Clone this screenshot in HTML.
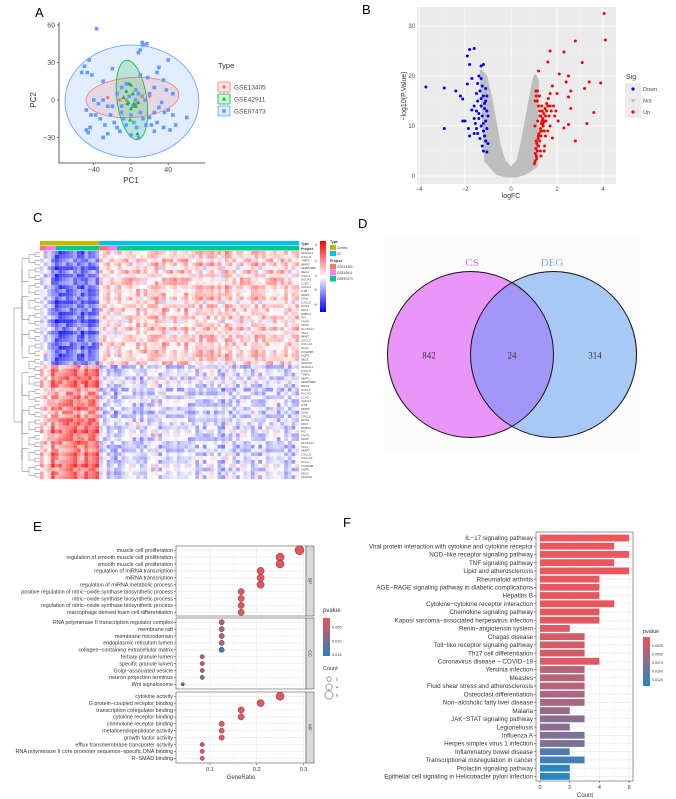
<!DOCTYPE html>
<html><head><meta charset="utf-8"><style>
html,body{margin:0;padding:0;background:#fff;}
svg{display:block;font-family:"Liberation Sans",sans-serif;}
</style></head><body>
<svg id="fig" width="676" height="799" viewBox="0 0 676 799" xmlns="http://www.w3.org/2000/svg">
<g id="pA"></g>
<g id="pB"></g>
<g id="pC"></g>
<g id="pD"></g>
<g id="pE"></g>
<g id="pF"></g>
</svg>
<script>
// ---------- DATA ----------
const pcaBlue = [[-37,57],[12,46],[13,44],[17,45],[10,40],[8,38],[-50,27],[-45,32],[-47,22],[-53,22],[-42,20],[-30,15],[-20,25],[40,32],[30,26],[28,22],[10,20],[35,16],[18,18],[-15,5],[-10,10],[-5,13],[5,8],[20,5],[25,10],[38,8],[45,5],[-40,0],[-35,-3],[-30,0],[-25,-5],[-48,-8],[-43,-12],[-38,-12],[-33,-15],[-28,-20],[-22,-12],[-18,-18],[-15,-22],[-10,-10],[-8,-15],[-5,-20],[0,-12],[3,-18],[6,-22],[10,-10],[13,-15],[16,-20],[20,-14],[22,-20],[25,-10],[28,-18],[30,-6],[33,-2],[36,-10],[40,-8],[45,-12],[48,-20],[42,-24],[-48,-24],[-46,-26],[-44,-22],[-25,-27],[-30,-30],[0,-28],[8,-30],[-10,-5],[15,0],[5,0],[60,-14],[-20,-5],[-12,-25],[35,-22],[25,-25],[12,3],[-2,3],[2,-5],[8,5]];
const pcaRed = [[-25,2],[-12,0],[12,3],[20,3],[-5,0],[6,-3]];
const pcaGreen = [[0,12],[-2,13],[-5,7],[-8,2],[2,5],[-3,-2],[5,-5],[8,-2],[0,-7],[-4,-3],[-1,-16],[7,-27],[3,-3]];
const pcaXTicks = [-40,0,40];
const pcaYTicks = [60,30,0,-30];

const volDown = [[-3.7,17.8],[-2.9,17.6],[-2.9,9.5],[-2.4,17],[-2.2,16],[-2.1,15.4],[-2.0,11],[-2.1,11],[-1.9,18.4],[-1.9,24],[-1.8,25.3],[-1.6,25.5],[-1.8,22.3],[-1.2,22.3],[-1.3,22],[-1.7,19.5],[-1.85,9.5],[-1.8,8],[-1.4,20],[-1.3,19.5],[-1.25,18],[-1.35,17],[-1.5,16.5],[-1.2,16],[-1.1,15],[-1.45,15],[-1.6,14],[-1.3,14],[-1.15,13.5],[-1.05,13],[-1.5,13],[-1.7,13.2],[-1.25,12],[-1.4,11.5],[-1.1,11],[-1.55,10.5],[-1.3,10],[-1.2,9],[-1.05,9.5],[-1.45,8.5],[-1.15,8],[-1.35,7.5],[-1.1,7],[-1.25,6],[-1.2,5],[-1.05,4.8],[-1.4,12.5],[-1.6,11.5],[-1.0,12],[-1.1,17.5],[-1.45,18.5],[-1.05,16],[-1.3,15.5],[-1.2,10.5],[-1.5,9.5],[-1.0,6.5],[-1.6,8.5],[-1.15,14.5]];
const volUp = [[4.05,32.5],[4.1,27.2],[2.8,27],[1.7,25],[2.3,24.8],[3.1,22.7],[1.6,22.8],[1.2,21],[2.1,20.4],[2.5,20],[3.4,18.8],[2.4,18.8],[3.9,18.6],[3.2,17.5],[2.6,17],[1.8,18],[2.5,15.8],[2.0,16.5],[2.6,13.5],[3.6,12.7],[3.3,10.5],[2.5,10.3],[2.8,7],[1.8,7.6],[2.3,9.6],[2.05,11],[1.7,14],
[1.05,3],[1.1,4],[1.15,5],[1.2,6],[1.25,7],[1.3,8],[1.35,9],[1.4,10],[1.45,11],[1.5,12],[1.55,13],[1.6,14],[1.05,15],[1.1,16],[1.15,17],[1.2,14],[1.25,13],[1.3,12],[1.35,11],[1.4,10.5],[1.45,9],[1.5,8],[1.08,5.5],[1.12,6.5],[1.18,7.5],[1.22,8.5],[1.28,9.5],[1.32,10.5],[1.38,11.5],[1.42,12.5],[1.48,13.5],[1.55,14.5],[1.62,15.5],[1.7,16.5],[1.06,4.5],[1.14,15],[1.24,16],[1.34,14],[1.44,5],[1.04,10],[1.16,11],[1.26,12],[1.36,13],[1.46,6],[1.09,7],[1.19,8],[1.29,9],[1.39,10],[1.52,11],[1.65,12],[1.75,13],[1.85,14],[1.95,13],[1.08,17],[1.18,6],[1.28,5],[1.02,2.5],[1.12,3.5],[1.3,4],[1.6,9],[1.7,10],[1.9,12]];
const volNotTop = [[-1.3,21],[-1.1,20],[-0.9,16],[-0.7,11],[-0.5,6],[-0.3,3],[0,1.5],[0.3,3],[0.5,7],[0.7,12],[0.9,17],[1.05,20],[1.15,19]];
const volNotBottom = [[1.1,2],[0.6,0.5],[0.2,0],[-0.2,0],[-0.6,0.5],[-1.1,3]];
const volXTicks = [-4,-2,0,2,4];
const volYTicks = [0,10,20,30];

const hmRows = 60, hmCols = 70, hmControlCols = 16;
const hmBase = [[-2.0,0.6],[2.0,-0.6]]; // [cluster][group: control, UC]
const hmColOff = "5555223455525455444424456362545737456457344635644275436454635456354435";
const hmRowOff = "545636454554634545356454546545454565334545344646545445546554";

const vennSets = ["CS","DEG"];
const vennCounts = [842,24,314];

const goTerms = ["muscle cell proliferation","regulation of smooth muscle cell proliferation","smooth muscle cell proliferation","regulation of miRNA transcription","miRNA transcription","regulation of miRNA metabolic process","positive regulation of nitric−oxide synthase biosynthetic process","nitric−oxide synthase biosynthetic process","regulation of nitric−oxide synthase biosynthetic process","macrophage derived foam cell differentiation",
"RNA polymerase II transcription regulator complex","membrane raft","membrane microdomain","endoplasmic reticulum lumen","collagen−containing extracellular matrix","tertiary granule lumen","specific granule lumen","Golgi−associated vesicle","neuron projection terminus","Wnt signalosome",
"cytokine activity","G protein−coupled receptor binding","transcription coregulator binding","cytokine receptor binding","chemokine receptor binding","metalloendopeptidase activity","growth factor activity","efflux transmembrane transporter activity","RNA polymerase II core promoter sequence−specific DNA binding","R−SMAD binding"];
const goCounts = [7,6,6,5,5,5,4,4,4,4, 3,3,3,3,3,2,2,2,2,1, 6,5,4,4,3,3,3,2,2,2];
const goPvals = [0.002,0.002,0.002,0.002,0.002,0.002,0.002,0.002,0.002,0.002, 0.006,0.006,0.006,0.006,0.0155,0.004,0.004,0.005,0.009,0.015, 0.002,0.002,0.002,0.002,0.002,0.002,0.002,0.002,0.002,0.002];
const goOnts = ["BP","CC","MF"];
const goTotal = 24;
const goXTicks = [0.1,0.2,0.3];
const goPTicks = [0.005,0.010,0.015];

const keggTerms = ["IL−17 signaling pathway","Viral protein interaction with cytokine and cytokine receptor","NOD−like receptor signaling pathway","TNF signaling pathway","Lipid and atherosclerosis","Rheumatoid arthritis","AGE−RAGE signaling pathway in diabetic complications","Hepatitis B","Cytokine−cytokine receptor interaction","Chemokine signaling pathway","Kaposi sarcoma−associated herpesvirus infection","Renin−angiotensin system","Chagas disease","Toll−like receptor signaling pathway","Th17 cell differentiation","Coronavirus disease − COVID−19","Yersinia infection","Measles","Fluid shear stress and atherosclerosis","Osteoclast differentiation","Non−alcoholic fatty liver disease","Malaria","JAK−STAT signaling pathway","Legionellosis","Influenza A","Herpes simplex virus 1 infection","Inflammatory bowel disease","Transcriptional misregulation in cancer","Prolactin signaling pathway","Epithelial cell signaling in Helicobacter pylori infection"];
const keggCounts = [6,5,6,5,6,4,4,4,5,4,4,2,3,3,3,4,3,3,3,3,3,2,3,2,3,3,2,3,2,2];
const keggPvals = [0.0003,0.0003,0.0003,0.0003,0.0003,0.0005,0.0005,0.0005,0.0005,0.0006,0.0006,0.0015,0.002,0.002,0.002,0.0012,0.004,0.004,0.004,0.0045,0.005,0.006,0.007,0.007,0.0078,0.008,0.011,0.012,0.0135,0.0138];
const keggXTicks = [0,2,4,6];
const keggPTicks = [0.0025,0.0050,0.0075,0.0100,0.0125];

// ---------- HELPERS ----------
const NS="http://www.w3.org/2000/svg";
function mk(parent,tag,attrs,text){const e=document.createElementNS(NS,tag);for(const k in attrs)e.setAttribute(k,attrs[k]);if(text!==undefined)e.textContent=text;parent.appendChild(e);return e;}
function label(parent,x,y,t,size,extra){const e=mk(parent,'text',Object.assign({x:x,y:y,'font-size':size,fill:'#333'},extra||{}),t);return e;}
function hex2rgb(h){return [parseInt(h.slice(1,3),16),parseInt(h.slice(3,5),16),parseInt(h.slice(5,7),16)];}
function mix(a,b,t){t=Math.max(0,Math.min(1,t));const A=hex2rgb(a),B=hex2rgb(b);return 'rgb('+A.map((v,i)=>Math.round(v+(B[i]-v)*t)).join(',')+')';}

// ---------- PANEL A ----------
(function(){
const g=document.getElementById('pA');
const sx=v=>131+v*0.93, sy=v=>100-v*1.25;
let t=label(g,35,17,'A',13,{fill:'#000'});


const ell=(cx,cy,rx,ry,rot,fill,stroke,name)=>{const e=mk(g,'ellipse',{cx:sx(cx),cy:sy(cy),rx:rx*0.93,ry:ry*1.25,transform:'rotate('+rot+' '+sx(cx)+' '+sy(cy)+')',fill:fill,'fill-opacity':0.18,stroke:stroke,'stroke-width':0.8});

};
ell(1,-1,72,45,0,'#619cff','#619cff','ellipse-gse87473');
ell(1.5,2,50,16,-4,'#f8766d','#f8766d','ellipse-gse13405');
ell(1,0,16,32,-8,'#00ba38','#00ba38','ellipse-gse42911');
pcaBlue.forEach(p=>{const r=mk(g,'rect',{x:sx(p[0])-1.8,y:sy(p[1])-1.8,width:3.6,height:3.6,fill:'#619cff'});

});
pcaRed.forEach(p=>{const c=mk(g,'circle',{cx:sx(p[0]),cy:sy(p[1]),r:1.7,fill:'#f8766d'});

});
pcaGreen.forEach(p=>{const x=sx(p[0]),y=sy(p[1]);const c=mk(g,'polygon',{points:`${x},${y-2.2} ${x-2},${y+1.5} ${x+2},${y+1.5}`,fill:'#00ba38'});

});
mk(g,'line',{x1:59,y1:22,x2:59,y2:163,stroke:'#333','stroke-width':0.8});
mk(g,'line',{x1:59,y1:163,x2:205,y2:163,stroke:'#333','stroke-width':0.8});
pcaXTicks.forEach(v=>{mk(g,'line',{x1:sx(v),y1:163,x2:sx(v),y2:165,stroke:'#333','stroke-width':0.7});const l=label(g,sx(v),172,String(v).replace('-','−'),7,{'text-anchor':'middle',fill:'#4d4d4d'});

});
pcaYTicks.forEach(v=>{mk(g,'line',{x1:57,y1:sy(v),x2:59,y2:sy(v),stroke:'#333','stroke-width':0.7});const l=label(g,55,sy(v)+2.5,String(v).replace('-','−'),7,{'text-anchor':'end',fill:'#4d4d4d'});

});
t=label(g,131,183,'PC1',8,{'text-anchor':'middle'});


t=label(g,36,100,'PC2',8,{'text-anchor':'middle',transform:'rotate(-90 36 100)'});


t=label(g,218,68,'Type',7.5,{});


const leg=[['GSE13405','#f8766d','c'],['GSE42911','#00ba38','t'],['GSE87473','#619cff','s']];
leg.forEach((L,i)=>{const y=87+i*12;mk(g,'rect',{x:218,y:y-5,width:12,height:10,fill:L[1],'fill-opacity':0.18,stroke:L[1],'stroke-width':0.8,rx:1});
if(L[2]=='c')mk(g,'circle',{cx:224,cy:y,r:1.7,fill:L[1]});else if(L[2]=='t')mk(g,'polygon',{points:`224,${y-2.2} 222,${y+1.5} 226,${y+1.5}`,fill:L[1]});else mk(g,'rect',{x:222.2,y:y-1.8,width:3.6,height:3.6,fill:L[1]});
const l=label(g,234,y+2.5,L[0],6.5,{fill:'#4d4d4d'});

});
})();

// ---------- PANEL B ----------
(function(){
const g=document.getElementById('pB');
const sx=v=>511+v*23, sy=v=>176-v*5;
let t=label(g,362,14,'B',13,{fill:'#000'});


const bg=mk(g,'rect',{x:417,y:7,width:199,height:177,fill:'#ebebeb'});


[-3,-1,1,3].forEach(v=>mk(g,'line',{x1:sx(v),y1:7,x2:sx(v),y2:184,stroke:'#f5f5f5','stroke-width':0.4}));
[5,15,25].forEach(v=>mk(g,'line',{x1:417,y1:sy(v),x2:616,y2:sy(v),stroke:'#f5f5f5','stroke-width':0.4}));
volXTicks.forEach(v=>{mk(g,'line',{x1:sx(v),y1:7,x2:sx(v),y2:184,stroke:'#fff','stroke-width':0.8});const l=label(g,sx(v),191,String(v).replace('-','−'),6,{'text-anchor':'middle',fill:'#4d4d4d'});

});
volYTicks.forEach(v=>{mk(g,'line',{x1:417,y1:sy(v),x2:616,y2:sy(v),stroke:'#fff','stroke-width':0.8});const l=label(g,415,sy(v)+2,String(v),6,{'text-anchor':'end',fill:'#4d4d4d'});

});
const poly=volNotTop.concat(volNotBottom).map(p=>sx(p[0])+','+sy(p[1])).join(' ');
const np=mk(g,'polygon',{points:poly,fill:'#bebebe',stroke:'#bebebe','stroke-width':3,'stroke-linejoin':'round'});


volDown.forEach(p=>{const c=mk(g,'circle',{cx:sx(p[0]),cy:sy(p[1]),r:1.5,fill:'#0000ff'});

});
volUp.forEach(p=>{const c=mk(g,'circle',{cx:sx(p[0]),cy:sy(p[1]),r:1.5,fill:'#ff0000'});

});
t=label(g,511,198,'logFC',7,{'text-anchor':'middle'});


t=label(g,406,96,'−log10(P.Value)',7,{'text-anchor':'middle',transform:'rotate(-90 406 96)'});


t=label(g,626,79,'Sig',7,{});


mk(g,'rect',{x:625,y:83,width:16,height:35,fill:'#ebebeb'});
[['Down','#0000ff'],['Not','#bebebe'],['Up','#ff0000']].forEach((L,i)=>{const y=89+i*11.5;mk(g,'circle',{cx:633,cy:y,r:1.6,fill:L[1]});const l=label(g,643,y+2,L[0],5.5,{fill:'#4d4d4d'});

});
})();

// ---------- PANEL C ----------
(function(){
const g=document.getElementById('pC');
let t=label(g,33,222,'C',13,{fill:'#000'});


const x0=40,x1=299,y0=251,y1=479;
const cw=(x1-x0)/hmCols, rh=(y1-y0)/hmRows;
const col=v=>{const t=Math.max(-1,Math.min(1,v/4));return t>=0?mix('#ffffff','#ff0000',t):mix('#ffffff','#0000ff',-t);};
for(let r=0;r<hmRows;r++){const cl=r<hmRows/2?0:1;const ro=(+hmRowOff[r]-4.5)*0.2;
for(let c=0;c<hmCols;c++){const grp=c<hmControlCols?0:1;let base=hmBase[cl][grp];if(grp==0&&c<3)base*=0.3;
const tex=(((+hmColOff[c]+1)*(+hmRowOff[r]+2)+c*3+r*7)%9-4)*0.22;
const v=base+(+hmColOff[c]-4.5)*0.2+ro+tex;
const cell=mk(g,'rect',{x:(x0+c*cw).toFixed(2),y:(y0+r*rh).toFixed(2),width:(cw+0.05).toFixed(2),height:(rh+0.05).toFixed(2),fill:col(v)});

}}
const ann=mk(g,'g',{});


const xc=x0+hmControlCols*cw;
mk(ann,'rect',{x:x0,y:241,width:xc-x0,height:4.5,fill:'#c4b800'});
mk(ann,'rect',{x:xc,y:241,width:x1-xc,height:4.5,fill:'#00c0f0'});
[[x0,46,'#f8766d'],[46,56,'#f57ff0'],[56,xc,'#00c98e'],[xc,108,'#f8766d'],[108,117,'#f57ff0'],[117,x1,'#00c98e']].forEach(s=>mk(ann,'rect',{x:s[0],y:246,width:s[1]-s[0],height:4.5,fill:s[2]}));
label(g,301,245,'Type',3.5,{'font-weight':'bold'});label(g,301,250,'Project',3.5,{'font-weight':'bold'});
const dg=mk(g,'g',{stroke:'#555','stroke-width':0.4,fill:'none'});


for(let r=0;r<hmRows;r+=2){const ya=y0+(r+0.5)*rh,yb=y0+(r+1.5)*rh;mk(dg,'path',{d:`M40 ${ya} H35 V${yb} H40`});}
for(let r=0;r<hmRows;r+=4){const ya=y0+(r+1)*rh,yb=y0+(r+3)*rh;mk(dg,'path',{d:`M35 ${ya} H29 V${yb} H35`});}
for(let r=0;r<hmRows;r+=10){const ya=y0+(r+2)*rh,yb=y0+(r+8)*rh;mk(dg,'path',{d:`M29 ${ya} H22 V${yb} H29`});}
const ma=y0+15*rh,mb=y0+45*rh;
mk(dg,'path',{d:`M22 ${y0+5*rh} V${y0+25*rh} M22 ${y0+35*rh} V${y0+55*rh} M22 ${ma} H14 V${mb} H22`});
const genes=["S100A11","CXCL8","TIMP1","MMP3","SERPINB5","REG4","CXCL1","DUOX2","LCN2","CHI3L1","IL1B","MMP1","SAA1","CXCL5","NOS2","IDO1","DMBT1","PI3","TNIP3","CD55","SLC6A14","TFF1","MMP7","CXCL9","CXCL10","PLAU","FCGR3B","AQP9","SELE","S100A8"];
for(let r=0;r<hmRows;r++){const l=label(g,301,y0+(r+0.8)*rh,genes[r%genes.length],3,{fill:'#444'});

}
const cb=mk(g,'defs',{});const lg=mk(cb,'linearGradient',{id:'hmg',x1:0,y1:0,x2:0,y2:1});
mk(lg,'stop',{offset:0,'stop-color':'#ff0000'});mk(lg,'stop',{offset:0.5,'stop-color':'#ffffff'});mk(lg,'stop',{offset:1,'stop-color':'#0000ff'});
const bar=mk(g,'rect',{x:320,y:241,width:6,height:71,fill:'url(#hmg)'});


[['4',246],['2',262],['0',277],['−2',291],['−4',306]].forEach(a=>label(g,317,a[1],a[0],3.5,{'text-anchor':'end'}));
label(g,330,243,'Type',3.5,{'font-weight':'bold'});
mk(g,'rect',{x:330,y:245,width:6,height:5,fill:'#c4b800'});label(g,337,249,'Control',3.2,{});
mk(g,'rect',{x:330,y:251,width:6,height:5,fill:'#00c0f0'});label(g,337,255,'UC',3.2,{});
label(g,330,262,'Project',3.5,{'font-weight':'bold'});
[['GSE13405','#f8766d'],['GSE42911','#f57ff0'],['GSE87473','#00c98e']].forEach((L,i)=>{mk(g,'rect',{x:330,y:264+i*6,width:6,height:5.5,fill:L[1]});label(g,337,268+i*6,L[0],3.2,{});});
})();

// ---------- PANEL D ----------
(function(){
const g=document.getElementById('pD');
let t=label(g,358,228,'D',13,{fill:'#000'});


mk(g,'rect',{x:385,y:237,width:255,height:213,fill:'#fcfcfc'});
const L=mk(g,'circle',{cx:470.5,cy:354.5,r:83,fill:'#e996f8'});


const R=mk(g,'circle',{cx:553.5,cy:354.5,r:83,fill:'#a8c8f5'});


mk(g,'defs',{}).innerHTML='<clipPath id="cpL"><circle cx="470.5" cy="354.5" r="83"/></clipPath>';
const I=mk(g,'circle',{cx:553.5,cy:354.5,r:83,fill:'#a496f8','clip-path':'url(#cpL)'});


mk(g,'circle',{cx:470.5,cy:354.5,r:83,fill:'none',stroke:'#111','stroke-width':1});
mk(g,'circle',{cx:553.5,cy:354.5,r:83,fill:'none',stroke:'#111','stroke-width':1});
const sf='"Liberation Serif",serif';
t=label(g,472,266,vennSets[0],11,{'text-anchor':'middle',fill:'#e15ef0','font-family':sf});


t=label(g,552,266,vennSets[1],11,{'text-anchor':'middle',fill:'#7aaee8','font-family':sf});


[[429,vennCounts[0]],[512,vennCounts[1]],[595,vennCounts[2]]].forEach(a=>{const l=label(g,a[0],358.5,String(a[1]),9,{'text-anchor':'middle','font-family':sf});

});
})();

// ---------- PANEL E ----------
(function(){
const g=document.getElementById('pE');
let t=label(g,33,531,'E',13,{fill:'#000'});


const px0=176,px1=306;
const sx=v=>210+(v-0.1)*467;
const panels=[[546,616],[618,689],[692,763]];
const pcol=p=>mix('#e8545a','#2a7fc0',(p-0.0017)/(0.0155-0.0017));
panels.forEach((P,k)=>{
mk(g,'rect',{x:px0,y:P[0],width:px1-px0,height:P[1]-P[0],fill:'#fff',stroke:'#555','stroke-width':0.6});
goXTicks.forEach(v=>mk(g,'line',{x1:sx(v),y1:P[0],x2:sx(v),y2:P[1],stroke:'#e6e6e6','stroke-width':0.6}));
[0.05,0.15,0.25].forEach(v=>mk(g,'line',{x1:sx(v),y1:P[0],x2:sx(v),y2:P[1],stroke:'#f2f2f2','stroke-width':0.4}));
const s=mk(g,'rect',{x:px1,y:P[0],width:8,height:P[1]-P[0],fill:'#d9d9d9',stroke:'#555','stroke-width':0.6});


const cy=(P[0]+P[1])/2;label(g,310,cy,goOnts[k],4.5,{'text-anchor':'middle',transform:`rotate(90 310 ${cy})`,dy:1.5});
for(let i=0;i<10;i++){const idx=k*10+i;const y=P[0]+4.2+i*6.9;
mk(g,'line',{x1:px0,y1:y,x2:px1,y2:y,stroke:'#e6e6e6','stroke-width':0.6});
mk(g,'line',{x1:px0-2,y1:y,x2:px0,y2:y,stroke:'#333','stroke-width':0.5});
const l=label(g,px0-3,y+1.8,goTerms[idx],5.4,{'text-anchor':'end'});

}
});
panels.forEach((P,k)=>{for(let i=0;i<10;i++){const idx=k*10+i;const y=P[0]+4.2+i*6.9;const c=goCounts[idx];
const d=mk(g,'circle',{cx:sx(c/goTotal),cy:y,r:1.2+c*0.48,fill:pcol(goPvals[idx]),stroke:'#333','stroke-width':0.4});

}});
goXTicks.forEach(v=>{mk(g,'line',{x1:sx(v),y1:763,x2:sx(v),y2:765,stroke:'#333','stroke-width':0.5});const l=label(g,sx(v),771,String(v),5.5,{'text-anchor':'middle'});

});
t=label(g,241,779,'GeneRatio',6,{'text-anchor':'middle'});


t=label(g,323,612,'pvalue',6,{});


const df=mk(g,'defs',{});const lg=mk(df,'linearGradient',{id:'eg',x1:0,y1:0,x2:0,y2:1});
mk(lg,'stop',{offset:0,'stop-color':'#e8545a'});mk(lg,'stop',{offset:1,'stop-color':'#2a7fc0'});
const cb=mk(g,'rect',{x:323,y:618,width:7,height:38,fill:'url(#eg)'});


goPTicks.forEach(v=>{const y=618+(v-0.0017)/(0.0155-0.0017)*38;label(g,332,y+1.5,v.toFixed(3),3.8,{});});
t=label(g,323,670,'Count',5.5,{});


[2,4,6].forEach((c,i)=>{const y=679+i*8;mk(g,'circle',{cx:329,cy:y,r:1.2+c*0.48,fill:'none',stroke:'#333','stroke-width':0.5});label(g,336,y+1.5,String(c),3.8,{});});
})();

// ---------- PANEL F ----------
(function(){
const g=document.getElementById('pF');
let t=label(g,343,527,'F',13,{fill:'#000'});


const sx=v=>540+v*14.85;
const y0=538, step=8.22;
const pcol=p=>mix('#f0555a','#1e88c8',p/0.0143);
mk(g,'rect',{x:536,y:532,width:97,height:249,fill:'#fff'});
[1,3,5].forEach(v=>mk(g,'line',{x1:sx(v),y1:532,x2:sx(v),y2:781,stroke:'#f2f2f2','stroke-width':0.4}));
keggXTicks.forEach(v=>mk(g,'line',{x1:sx(v),y1:532,x2:sx(v),y2:781,stroke:'#e6e6e6','stroke-width':0.6}));
keggTerms.forEach((name,i)=>{const y=y0+i*step;
mk(g,'line',{x1:536,y1:y,x2:633,y2:y,stroke:'#e6e6e6','stroke-width':0.6});
const b=mk(g,'rect',{x:sx(0),y:y-3.4,width:sx(keggCounts[i])-sx(0),height:6.8,fill:pcol(keggPvals[i])});


mk(g,'line',{x1:534,y1:y,x2:536,y2:y,stroke:'#333','stroke-width':0.5});
const l=label(g,533,y+2.2,name,6.3,{'text-anchor':'end'});

});
mk(g,'rect',{x:536,y:532,width:97,height:249,fill:'none',stroke:'#555','stroke-width':0.6});
keggXTicks.forEach(v=>{mk(g,'line',{x1:sx(v),y1:781,x2:sx(v),y2:783,stroke:'#333','stroke-width':0.5});const l=label(g,sx(v),789,String(v),5.5,{'text-anchor':'middle'});

});
t=label(g,585,797,'Count',6,{'text-anchor':'middle'});


t=label(g,643,633,'pvalue',5.5,{});


const df=mk(g,'defs',{});const lg=mk(df,'linearGradient',{id:'fg',x1:0,y1:0,x2:0,y2:1});
mk(lg,'stop',{offset:0,'stop-color':'#f0555a'});mk(lg,'stop',{offset:1,'stop-color':'#1e88c8'});
const cb=mk(g,'rect',{x:643,y:637,width:7,height:49,fill:'url(#fg)'});


keggPTicks.forEach(v=>{const y=637+v/0.0143*49;label(g,652,y+1.3,v.toFixed(4),3.6,{});});
})();
</script>
</body></html>
